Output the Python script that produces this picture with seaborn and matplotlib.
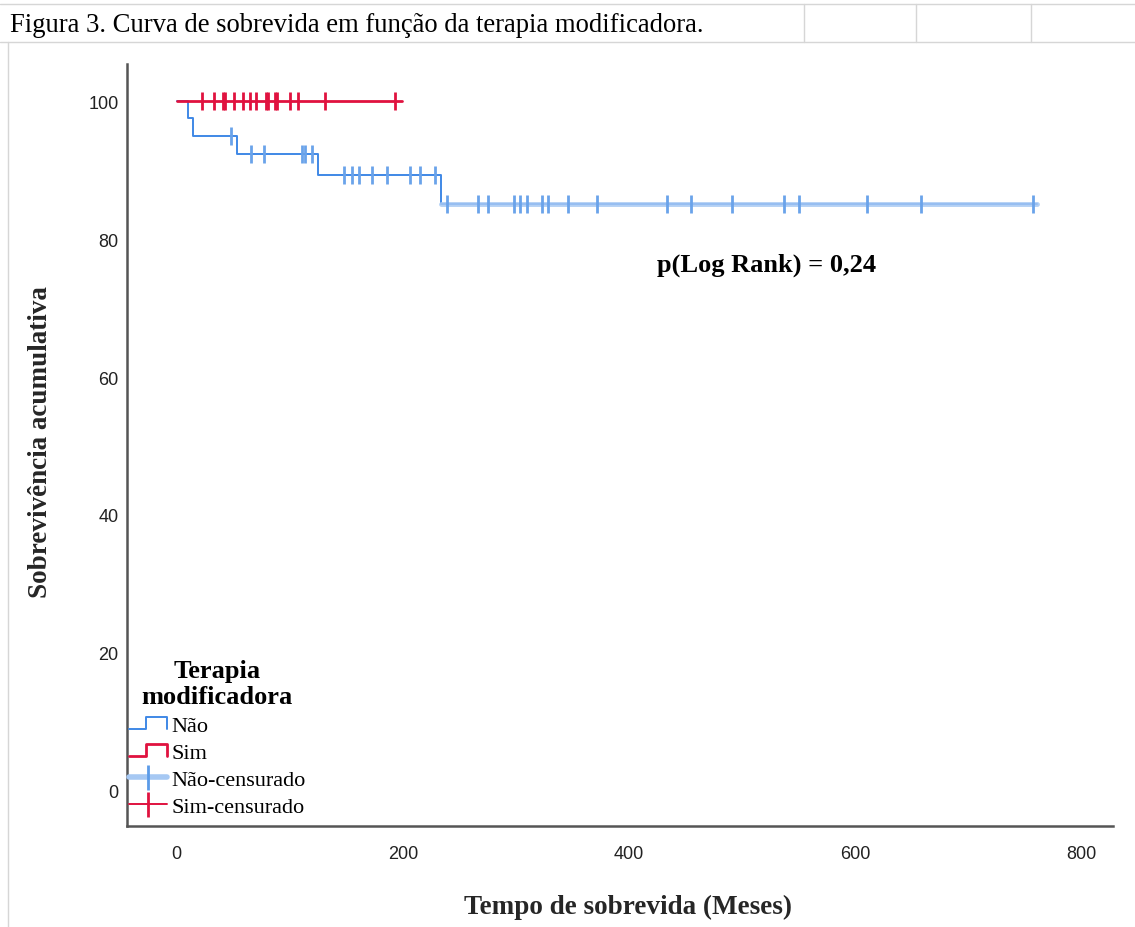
import numpy as np
import pandas as pd
import matplotlib
matplotlib.use('Agg')
import matplotlib.pyplot as plt
import seaborn as sns
from matplotlib.lines import Line2D
from matplotlib.legend_handler import HandlerBase

# =========================
# dados (tempo em meses, sobrevida em %)
# =========================
nao_tempo = [0, 10, 14, 53, 125, 234, 761]
nao_sobrevida = [100, 97.5, 95.0, 92.4, 89.3, 85.1, 85.1]

nao_cens_tempo = [48, 66, 77, 111, 113, 120, 148, 155, 161, 173, 186, 206, 215, 228,
                  239, 266, 275, 298, 304, 310, 323, 328, 346, 372, 434, 455, 491,
                  537, 550, 610, 658, 757]
nao_cens_sobrevida = [95.0, 92.4, 92.4, 92.4, 92.4, 92.4, 89.3, 89.3, 89.3, 89.3, 89.3,
                      89.3, 89.3, 89.3, 85.1, 85.1, 85.1, 85.1, 85.1, 85.1, 85.1, 85.1,
                      85.1, 85.1, 85.1, 85.1, 85.1, 85.1, 85.1, 85.1, 85.1, 85.1]

sim_tempo = [0, 199]
sim_sobrevida = [100, 100]

sim_cens_tempo = [22, 33, 41, 43, 51, 59, 65, 70, 79, 81, 87, 89, 100, 107, 131, 193]
sim_cens_sobrevida = [100, 100, 100, 100, 100, 100, 100, 100, 100, 100, 100, 100,
                      100, 100, 100, 100]

x_ticks = [0, 200, 400, 600, 800]
y_ticks = [0, 20, 40, 60, 80, 100]

# cores
azul = '#3f88e6'
azul_claro = '#a6c8f3'
vermelho = '#e0123f'

# =========================
# figura
# =========================
sns.set_theme(style='white')
plt.rcParams['font.family'] = ['Liberation Serif', 'DejaVu Serif']
plt.rcParams['text.color'] = '#000000'

W, H = 1135, 928
fig = plt.figure(figsize=(W / 100, H / 100), dpi=100)
ax = fig.add_axes([127 / W, 1 - 827 / H, (1113 - 127) / W, (827 - 65) / H])

# curvas de sobrevida + faixa clara no ultimo patamar (so censuras)
sns.lineplot(x=nao_tempo, y=nao_sobrevida, drawstyle='steps-post', color=azul,
             linewidth=1.4, estimator=None, ax=ax)
sns.lineplot(x=nao_tempo[-2:], y=nao_sobrevida[-2:], color=azul_claro,
             linewidth=3.5, alpha=0.85, estimator=None, ax=ax)
sns.lineplot(x=sim_tempo, y=sim_sobrevida, drawstyle='steps-post', color=vermelho,
             linewidth=2, estimator=None, ax=ax)

sns.scatterplot(x=nao_cens_tempo, y=nao_cens_sobrevida, marker='|', s=150,
                linewidth=2, color='#6aa3ea', ax=ax, zorder=4)
sns.scatterplot(x=sim_cens_tempo, y=sim_cens_sobrevida, marker='|', s=150,
                linewidth=2, color=vermelho, ax=ax, zorder=4)

ax.set_xlim(-44, 828)
ax.set_ylim(-5.1, 105.4)
ax.set_xticks(x_ticks)
ax.set_yticks(y_ticks)

tick_font = ['Liberation Sans Narrow', 'Liberation Sans', 'DejaVu Sans']
for lab in ax.get_xticklabels() + ax.get_yticklabels():
    lab.set_family(tick_font)
    lab.set_fontsize(13)
    lab.set_color('#222222')
ax.tick_params(axis='both', length=0)
ax.tick_params(axis='x', pad=14)
ax.tick_params(axis='y', pad=6)

for side in ['top', 'right']:
    ax.spines[side].set_visible(False)
for side in ['left', 'bottom']:
    ax.spines[side].set_color('#555555')
    ax.spines[side].set_linewidth(1.8)

ax.set_xlabel('Tempo de sobrevida (Meses)', fontsize=19.5, fontweight='bold')
ax.set_ylabel('Sobrevivência acumulativa', fontsize=19.5, fontweight='bold')
ax.xaxis.set_label_coords(0.508, -0.089)
ax.yaxis.set_label_coords(-0.075, 0.505)

ax.text(522, 76.4, 'p(Log Rank) = 0,24', ha='center', va='center',
        fontsize=19, fontweight='bold')


# =========================
# legenda com icone em degrau
# =========================
class StepHandler(HandlerBase):
    def create_artists(self, legend, orig_handle, xdescent, ydescent, width, height,
                       fontsize, trans):
        x0, y0 = -xdescent, -ydescent
        xm = x0 + 0.45 * width
        xs = [x0, xm, xm, x0 + width, x0 + width]
        ys = [y0 + 0.1 * height, y0 + 0.1 * height, y0 + 0.9 * height,
              y0 + 0.9 * height, y0 + 0.1 * height]
        line = Line2D(xs, ys, color=orig_handle.get_color(),
                      linewidth=orig_handle.get_linewidth(), transform=trans)
        return [line]


h_nao = Line2D([], [], color=azul, linewidth=1.4)
h_sim = Line2D([], [], color=vermelho, linewidth=2)
h_nao_c = Line2D([], [], color=azul_claro, linewidth=4, marker='|', markersize=18,
                 markeredgecolor='#5b9be8', markeredgewidth=2)
h_sim_c = Line2D([], [], color=vermelho, linewidth=1.4, marker='|', markersize=18,
                 markeredgecolor=vermelho, markeredgewidth=2)

leg = ax.legend([h_nao, h_sim, h_nao_c, h_sim_c],
                ['Não', 'Sim', 'Não-censurado', 'Sim-censurado'],
                title='Terapia\nmodificadora', loc='lower left',
                bbox_to_anchor=(-0.012, -0.006), frameon=False, fontsize=16,
                handlelength=1.75, handletextpad=0.2, labelspacing=0.3,
                numpoints=1, borderaxespad=0.2,
                title_fontproperties={'size': 19, 'weight': 'bold'},
                handler_map={h_nao: StepHandler(), h_sim: StepHandler()})
leg.get_title().set_multialignment('center')

# =========================
# linhas da planilha ao redor da figura
# =========================
grade = '#d6d6d6'
fig.add_artist(Line2D([0, 1], [1 - 5 / H, 1 - 5 / H], transform=fig.transFigure,
                      color=grade, linewidth=1))
fig.add_artist(Line2D([0, 1], [1 - 43 / H, 1 - 43 / H], transform=fig.transFigure,
                      color=grade, linewidth=1))
for xp in [804, 916, 1031]:
    fig.add_artist(Line2D([xp / W, xp / W], [1 - 5 / H, 1 - 43 / H],
                          transform=fig.transFigure, color=grade, linewidth=1))
fig.add_artist(Line2D([8 / W, 8 / W], [0, 1 - 43 / H], transform=fig.transFigure,
                      color=grade, linewidth=1))

fig.text(10 / W, 1 - 26 / H, 'Figura 3. Curva de sobrevida em função da terapia modificadora.',
         ha='left', va='center', fontsize=19.2, color='#000000')

fig.savefig('out.png', dpi=100)
